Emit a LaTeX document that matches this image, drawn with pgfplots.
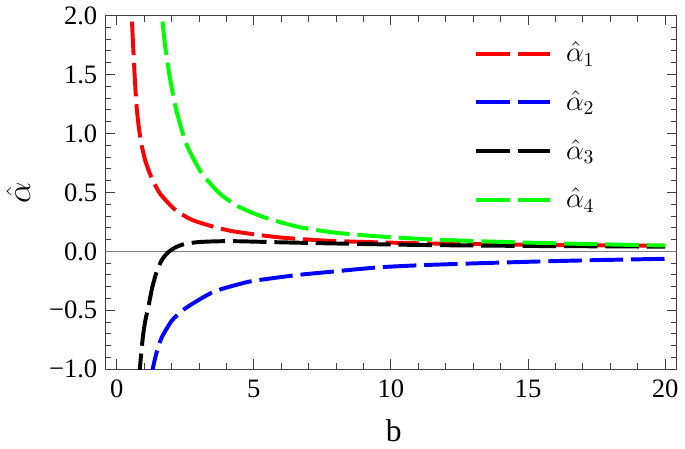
\documentclass[border=0pt]{standalone}
\usepackage{pgfplots}
\pgfplotsset{compat=1.18}
\usepackage{fontspec}
\setmainfont{Liberation Serif}

\pgfplotsset{
  curve/.style={line width=2pt, dash pattern=on 17pt off 4pt, smooth, tension=0.4},
}

\begin{document}
\begin{tikzpicture}
\begin{axis}[
    scale only axis,
    width=290pt, height=179.5pt,
    xmin=-0.42, xmax=20.42,
    ymin=-1, ymax=2,
    xtick={0,5,10,15,20},
    xticklabels={0,5,10,15,20},
    ytick={-1,-0.5,0,0.5,1,1.5,2},
    yticklabels={−1.0,−0.5,0.0,0.5,1.0,1.5,2.0},
    minor x tick num=4,
    minor y tick num=4,
    tick align=inside,
    major tick length=5pt,
    minor tick length=3pt,
    axis line style={black!75, line width=0.6pt},
    every tick/.style={black!75, line width=0.5pt},
    tick label style={font=\fontsize{13.5}{15}\selectfont},
    xticklabel style={yshift=-2pt},
    yticklabel style={xshift=-0.5pt},
    xlabel={b},
    ylabel={$\hat{\alpha}$},
    xlabel style={font=\fontsize{16}{18}\selectfont, at={(axis description cs:0.505,-0.175)}, anchor=center},
    ylabel style={font=\fontsize{16}{18}\selectfont, at={(axis description cs:-0.152,0.5)}, anchor=center},
    legend style={at={(axis description cs:0.635,0.948)}, anchor=north west,
      draw=none, fill=none, font=\fontsize{14}{16}\selectfont, row sep=9.2pt,
      /tikz/every odd column/.append style={column sep=5pt}},
    legend cell align=left,
    legend image code/.code={\draw[#1] (0pt,0pt) -- (37.5pt,0pt);},
]
\addplot[gray, line width=0.4pt, forget plot] coordinates {(-0.42,0) (20.42,0)};

\addplot[curve, red] coordinates {
  (0.50,2.30) (0.54,2.03) (0.60,1.73) (0.66,1.46) (0.72,1.24) (0.80,1.06)
  (0.90,0.91) (1.04,0.77) (1.26,0.63) (1.58,0.49) (2.12,0.355) (2.72,0.27)
  (3.44,0.215) (4.16,0.174) (5.0,0.145) (5.96,0.118) (7.0,0.100) (7.76,0.090)
  (9.0,0.080) (10.0,0.074) (11.2,0.068) (13.0,0.062) (15.0,0.056) (17.5,0.051)
  (20.0,0.047)
};
\addlegendentry{$\hat{\alpha}_1$}

\addplot[curve, blue] coordinates {
  (1.25,-1.12) (1.31,-1.0) (1.45,-0.86) (1.64,-0.73) (2.0,-0.59) (2.35,-0.51)
  (2.72,-0.45) (3.56,-0.34) (4.76,-0.26) (5.6,-0.23) (6.6,-0.20) (7.76,-0.174)
  (9.56,-0.135) (11.24,-0.116) (13.0,-0.102) (15.2,-0.087) (17.5,-0.074)
  (20.0,-0.063)
};
\addlegendentry{$\hat{\alpha}_2$}

\addplot[curve, black] coordinates {
  (0.80,-1.15) (0.84,-1.0) (0.95,-0.73) (1.04,-0.59) (1.17,-0.45) (1.30,-0.30)
  (1.46,-0.17) (1.65,-0.07) (1.88,-0.007) (2.15,0.035) (2.48,0.063) (2.90,0.077)
  (3.32,0.083) (4.0,0.087) (4.64,0.085) (5.96,0.077) (7.76,0.068) (9.56,0.060)
  (11.2,0.054) (13.0,0.050) (15.0,0.046) (17.5,0.043) (20.0,0.040)
};
\addlegendentry{$\hat{\alpha}_3$}

\addplot[curve, green] coordinates {
  (1.60,2.30) (1.64,2.03) (1.76,1.75) (1.94,1.47) (2.18,1.19) (2.54,0.91)
  (3.08,0.67) (3.76,0.49) (4.40,0.385) (5.24,0.30) (6.0,0.245) (6.68,0.205)
  (7.40,0.177) (8.12,0.155) (9.56,0.127) (11.24,0.104) (13.0,0.088)
  (14.6,0.077) (16.5,0.066) (18.3,0.057) (20.0,0.050)
};
\addlegendentry{$\hat{\alpha}_4$}
\end{axis}
\end{tikzpicture}
\end{document}
